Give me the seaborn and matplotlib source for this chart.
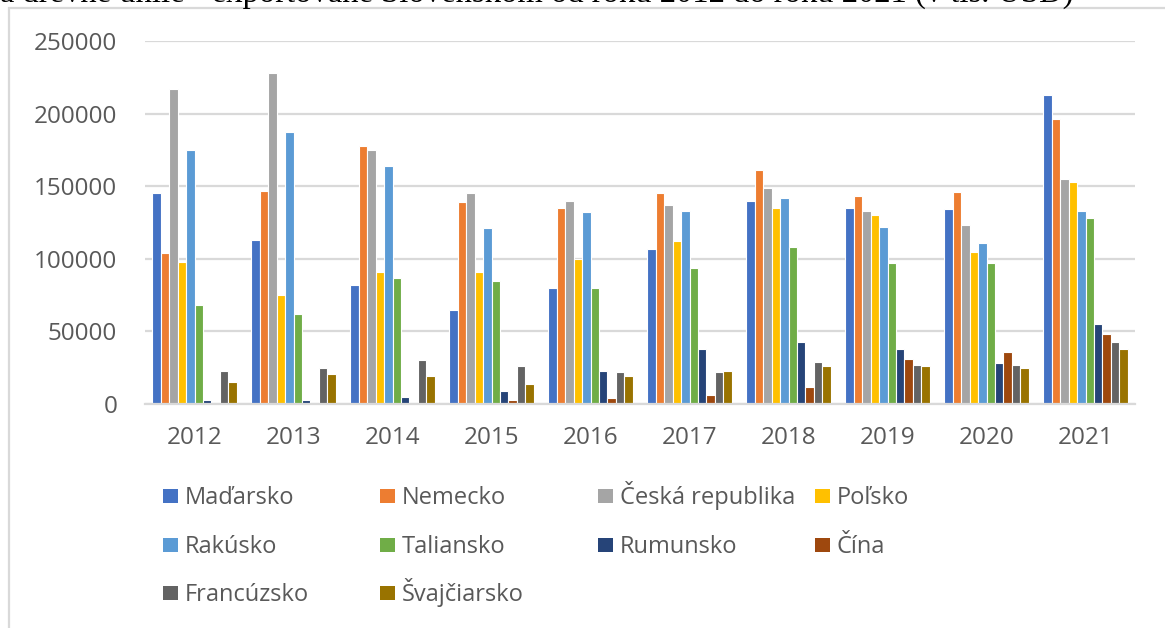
import matplotlib
matplotlib.use("Agg")
import matplotlib.pyplot as plt
from matplotlib.patches import Rectangle
import seaborn as sns
import pandas as pd

years = ["2012", "2013", "2014", "2015", "2016", "2017", "2018", "2019", "2020", "2021"]
countries = ["Maďarsko", "Nemecko", "Česká republika", "Poľsko", "Rakúsko",
             "Taliansko", "Rumunsko", "Čína", "Francúzsko", "Švajčiarsko"]

madarsko = [145000, 113000, 82000, 65000, 80000, 107000, 140000, 135000, 134000, 213000]
nemecko = [104000, 147000, 178000, 139000, 135000, 145000, 161000, 143000, 146000, 196000]
ceska = [217000, 228000, 175000, 145000, 140000, 137000, 149000, 133000, 123000, 155000]
polsko = [98000, 75000, 91000, 91000, 100000, 112000, 135000, 130000, 105000, 153000]
rakusko = [175000, 187000, 164000, 121000, 132000, 133000, 142000, 122000, 111000, 133000]
taliansko = [68000, 62000, 87000, 85000, 80000, 94000, 108000, 97000, 97000, 128000]
rumunsko = [3000, 3000, 5000, 9000, 23000, 38000, 43000, 38000, 28000, 55000]
cina = [0, 0, 0, 3000, 4000, 6000, 12000, 31000, 36000, 48000]
francuzsko = [23000, 25000, 30000, 26000, 22000, 22000, 29000, 27000, 27000, 43000]
svajciarsko = [15000, 21000, 19000, 14000, 19000, 23000, 26000, 26000, 25000, 38000]

series = [madarsko, nemecko, ceska, polsko, rakusko, taliansko, rumunsko, cina,
          francuzsko, svajciarsko]
colors = ["#4472C4", "#ED7D31", "#A5A5A5", "#FFC000", "#5B9BD5",
          "#70AD47", "#264478", "#9E480E", "#636363", "#997300"]

rows = []
for c, vals in zip(countries, series):
    for y, v in zip(years, vals):
        rows.append({"Rok": y, "Hodnota": v, "Krajina": c})
df = pd.DataFrame(rows)

sns.set_theme(style="white")
plt.rcParams["font.family"] = ["Open Sans", "DejaVu Sans"]

W, H = 1165, 628
fig = plt.figure(figsize=(W / 100, H / 100), dpi=100)
ax = fig.add_axes([145 / W, 1 - 404 / H, (1135 - 145) / W, (404 - 41) / H])

sns.barplot(data=df, x="Rok", y="Hodnota", hue="Krajina", order=years,
            hue_order=countries, palette=colors, saturation=1, width=0.85,
            edgecolor="white", linewidth=0.8, ax=ax)

handles, labels = ax.get_legend_handles_labels()
if ax.get_legend() is not None:
    ax.get_legend().remove()

ax.set_xlim(-0.5, 9.5)
ax.set_ylim(0, 250000)
ax.set_yticks([0, 50000, 100000, 150000, 200000, 250000])
ax.set_yticklabels(["0", "50000", "100000", "150000", "200000", "250000"])
ax.yaxis.grid(True, color="#d9d9d9", linewidth=1.6)
ax.set_axisbelow(True)
for s in ["top", "right", "left"]:
    ax.spines[s].set_visible(False)
ax.spines["bottom"].set_color("#d9d9d9")
ax.spines["bottom"].set_linewidth(1.6)
ax.set_xlabel("")
ax.set_ylabel("")
ax.tick_params(axis="y", length=0, pad=20, labelsize=17.5, labelcolor="#595959")
ax.tick_params(axis="x", length=0, pad=16, labelsize=17.5, labelcolor="#595959")

# legend: 4 columns, filled row by row, one entry per small legend so baselines align
col_x = [163, 380, 598, 815]
row_bottom = [510, 559, 607]
for i, (h, lab) in enumerate(zip(handles, labels)):
    r, c = divmod(i, 4)
    leg = fig.legend([h], [lab], loc="lower left",
                     bbox_to_anchor=(col_x[c] / W, 1 - row_bottom[r] / H),
                     frameon=False, fontsize=17, labelcolor="#595959",
                     handlelength=0.62, handleheight=0.55, handletextpad=0.3,
                     borderpad=0, borderaxespad=0)
    for hh in leg.legend_handles:
        hh.set_edgecolor("none")

# outer chart frame
fig.add_artist(Rectangle((9 / W, -0.2), 2, 1 - 8 / H + 0.2, transform=fig.transFigure,
                         fill=False, edgecolor="#d9d9d9", linewidth=1.6))

# heading above the chart, cut off by the top edge as in the source
fig.text(0.0, 1 - 1.5 / H,
         "a drevné uhlie - exportované Slovenskom od roku 2012 do roku 2021 (v tis. USD)",
         family="Liberation Serif", fontsize=23.5, color="black", ha="left", va="baseline")

fig.savefig("out.png", dpi=100)
